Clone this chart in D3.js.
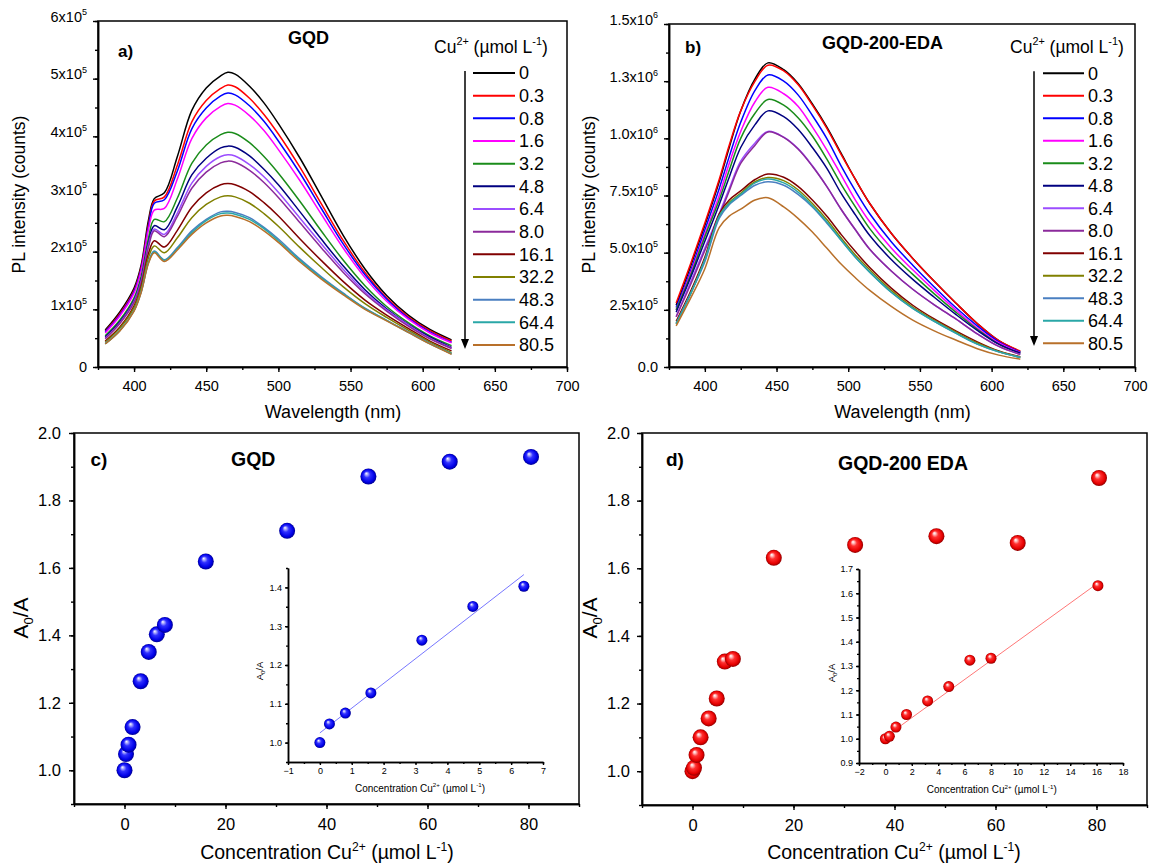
<!DOCTYPE html>
<html><head><meta charset="utf-8">
<script src="https://cdn.jsdelivr.net/npm/d3@7"></script>
<style>
body{margin:0;background:#fff}
svg text{font-family:"Liberation Sans",Arial,sans-serif;fill:#000}
</style>
</head><body>
<svg id="chart" width="1149" height="866"></svg>
<script>
// ---------------- DATA ----------------
const concLabels = ["0","0.3","0.8","1.6","3.2","4.8","6.4","8.0","16.1","32.2","48.3","64.4","80.5"];
const concValues = [0,0.3,0.8,1.6,3.2,4.8,6.4,8.0,16.1,32.2,48.3,64.4,80.5];
const seriesColors = ["#000000","#ff0000","#0000ff","#ff00ff","#1a8c1a","#000080","#9b4dff","#8b2a9b","#800000","#808000","#4a7fc1","#2aa7a7","#b8702a"];

// Panel a: GQD spectra (PL counts, x10^5)
const wavelengthsA = [380,390,400,405,410,414,421,430,440,450,460,465,470,480,490,500,515,530,545,560,575,590,605,620];
const gqd_0    = [0.64,0.95,1.37,1.78,2.55,2.92,3.02,3.65,4.45,4.84,5.05,5.11,5.08,4.87,4.58,4.22,3.62,2.95,2.28,1.70,1.24,0.90,0.65,0.47];
const gqd_0_3  = [0.62,0.92,1.33,1.74,2.48,2.88,2.95,3.50,4.25,4.62,4.83,4.89,4.86,4.66,4.38,4.04,3.46,2.82,2.19,1.64,1.20,0.87,0.63,0.45];
const gqd_0_8  = [0.61,0.90,1.31,1.71,2.44,2.84,2.90,3.40,4.13,4.49,4.70,4.75,4.72,4.53,4.26,3.92,3.36,2.74,2.13,1.60,1.18,0.85,0.61,0.43];
const gqd_1_6  = [0.59,0.88,1.28,1.68,2.39,2.72,2.75,3.26,3.96,4.32,4.52,4.57,4.54,4.36,4.10,3.77,3.23,2.64,2.06,1.55,1.14,0.83,0.59,0.42];
const gqd_3_2  = [0.54,0.81,1.20,1.58,2.24,2.56,2.52,2.93,3.53,3.85,4.03,4.07,4.05,3.89,3.65,3.36,2.87,2.35,1.85,1.41,1.05,0.77,0.54,0.37];
const gqd_4_8  = [0.52,0.78,1.16,1.53,2.16,2.45,2.38,2.78,3.33,3.62,3.80,3.83,3.81,3.66,3.43,3.16,2.69,2.21,1.75,1.34,1.01,0.74,0.52,0.34];
const gqd_6_4  = [0.50,0.76,1.14,1.50,2.12,2.39,2.30,2.67,3.19,3.48,3.65,3.68,3.66,3.51,3.30,3.03,2.58,2.13,1.69,1.30,0.99,0.73,0.50,0.33];
const gqd_8_0  = [0.49,0.75,1.12,1.48,2.08,2.36,2.26,2.61,3.10,3.38,3.54,3.57,3.55,3.41,3.20,2.94,2.50,2.06,1.64,1.27,0.97,0.71,0.49,0.32];
const gqd_16_1 = [0.45,0.69,1.06,1.41,1.97,2.19,2.08,2.37,2.77,3.02,3.16,3.18,3.16,3.04,2.85,2.62,2.22,1.84,1.48,1.16,0.90,0.67,0.45,0.28];
const gqd_32_2 = [0.43,0.67,1.03,1.37,1.90,2.10,1.98,2.24,2.59,2.82,2.95,2.97,2.95,2.84,2.66,2.44,2.07,1.72,1.39,1.10,0.86,0.64,0.43,0.25];
const gqd_48_3 = [0.41,0.63,0.98,1.31,1.82,2.01,1.86,2.07,2.36,2.56,2.69,2.70,2.68,2.59,2.42,2.22,1.87,1.56,1.28,1.02,0.81,0.61,0.41,0.23];
const gqd_64_4 = [0.40,0.63,0.98,1.31,1.81,2.00,1.85,2.05,2.33,2.54,2.66,2.67,2.65,2.56,2.40,2.19,1.85,1.54,1.27,1.01,0.81,0.60,0.40,0.23];
const gqd_80_5 = [0.40,0.62,0.97,1.30,1.80,1.98,1.83,2.03,2.30,2.50,2.62,2.63,2.61,2.52,2.36,2.16,1.82,1.52,1.25,1.00,0.80,0.60,0.40,0.22];

// Panel b: GQD-200-EDA spectra (PL counts, x10^6)
const wavelengthsB = [380,390,400,410,417,425,435,444,455,465,475,485,495,505,515,530,545,560,575,590,605,620];
const eda_0    = [0.27,0.44,0.62,0.81,0.96,1.12,1.26,1.33,1.30,1.24,1.15,1.05,0.935,0.82,0.715,0.585,0.475,0.375,0.28,0.19,0.115,0.067];
const eda_0_3  = [0.28,0.45,0.63,0.82,0.97,1.12,1.25,1.32,1.295,1.235,1.145,1.045,0.93,0.82,0.715,0.585,0.475,0.375,0.28,0.19,0.115,0.07];
const eda_0_8  = [0.26,0.42,0.60,0.78,0.92,1.07,1.21,1.277,1.25,1.19,1.10,1.00,0.88,0.77,0.67,0.548,0.445,0.35,0.26,0.18,0.11,0.065];
const eda_1_6  = [0.25,0.41,0.58,0.75,0.89,1.03,1.16,1.223,1.195,1.14,1.05,0.95,0.84,0.73,0.635,0.52,0.425,0.335,0.25,0.17,0.105,0.063];
const eda_3_2  = [0.25,0.40,0.57,0.73,0.86,1.00,1.11,1.17,1.145,1.09,1.01,0.91,0.80,0.70,0.605,0.495,0.405,0.32,0.24,0.165,0.10,0.06];
const eda_4_8  = [0.24,0.39,0.55,0.71,0.83,0.96,1.06,1.12,1.095,1.04,0.96,0.87,0.76,0.665,0.575,0.47,0.383,0.305,0.23,0.16,0.10,0.06];
const eda_6_4  = [0.22,0.37,0.52,0.67,0.78,0.90,0.98,1.03,1.005,0.955,0.88,0.79,0.69,0.60,0.515,0.42,0.34,0.272,0.21,0.145,0.09,0.055];
const eda_8_0  = [0.22,0.36,0.51,0.66,0.77,0.89,0.97,1.028,1.004,0.953,0.878,0.79,0.69,0.60,0.515,0.42,0.34,0.272,0.21,0.145,0.09,0.055];
const eda_16_1 = [0.20,0.33,0.48,0.67,0.73,0.77,0.82,0.844,0.83,0.79,0.73,0.66,0.58,0.505,0.435,0.345,0.27,0.21,0.158,0.11,0.07,0.045];
const eda_32_2 = [0.19,0.32,0.47,0.66,0.72,0.76,0.81,0.829,0.815,0.775,0.715,0.645,0.565,0.49,0.425,0.335,0.262,0.205,0.153,0.105,0.068,0.043];
const eda_48_3 = [0.19,0.32,0.46,0.65,0.71,0.75,0.795,0.81,0.795,0.755,0.70,0.63,0.555,0.48,0.415,0.327,0.256,0.20,0.148,0.10,0.066,0.042];
const eda_64_4 = [0.19,0.32,0.47,0.66,0.715,0.755,0.805,0.822,0.805,0.765,0.705,0.635,0.555,0.48,0.415,0.327,0.256,0.20,0.148,0.10,0.066,0.042];
const eda_80_5 = [0.18,0.30,0.43,0.61,0.66,0.69,0.73,0.74,0.70,0.65,0.59,0.52,0.45,0.39,0.335,0.265,0.205,0.158,0.118,0.08,0.052,0.034];

// Panels c, d: A0/A vs Cu2+ concentration
const ratioGQD = [1.000,1.048,1.076,1.128,1.264,1.351,1.403,1.431,1.619,1.710,1.871,1.915,1.929];
const ratioEDA = [1.000,1.010,1.048,1.100,1.156,1.215,1.324,1.332,1.631,1.669,1.695,1.675,1.867];
// insets (linear range)
const insetGQDcount = 7;
const insetEDAcount = 9;
const fitGQDx = [0, 6.4], fitGQDy = [1.025, 1.433];
const fitEDAx = [0, 16.1], fitEDAy = [1.008, 1.642];

// tick labels
const tickValsA = [0,1,2,3,4,5,6];
const tickLabsA = [["0",""],["1x10","5"],["2x10","5"],["3x10","5"],["4x10","5"],["5x10","5"],["6x10","5"]];
const tickValsB = [0,0.25,0.5,0.75,1.0,1.25,1.5];
const tickLabsB = [["0.0",""],["2.5x10","5"],["5.0x10","5"],["7.5x10","5"],["1.0x10","6"],["1.3x10","6"],["1.5x10","6"]];

// ---------------- DRAWING ----------------
const svg = d3.select("#chart");
const FONT = '"Liberation Sans",Arial,sans-serif';

function rich(sel, parts, fs){
  sel.text(null);
  let cur = 0;
  parts.forEach(([s,k])=>{
    const off = k==="sup" ? -0.42*fs : k==="sub" ? 0.25*fs : 0;
    const t = sel.append("tspan").text(s).attr("dy", off-cur);
    if(k) t.attr("font-size", 0.62*fs);
    cur = off;
  });
}

function styleAxis(g, fs){
  g.attr("font-size", fs).attr("font-family", FONT);
  g.selectAll("path.domain").attr("stroke","#000").attr("stroke-width",1.5);
  g.selectAll(".tick line").attr("stroke","#000").attr("stroke-width",1.4);
  g.selectAll(".tick text").attr("fill","#000");
}

function axes(g, x, y, o){
  styleAxis(g.append("g").attr("transform",`translate(0,${o.b})`)
    .call(d3.axisBottom(x).tickValues(o.xMinor).tickSize(o.minorLen).tickFormat("").tickSizeOuter(0)), o.fs);
  styleAxis(g.append("g").attr("transform",`translate(${o.l},0)`)
    .call(d3.axisLeft(y).tickValues(o.yMinor).tickSize(o.minorLen).tickFormat("").tickSizeOuter(0)), o.fs);
  const gx = g.append("g").attr("transform",`translate(0,${o.b})`)
    .call(d3.axisBottom(x).tickValues(o.xMajor).tickSize(o.majorLen).tickPadding(o.xPad).tickSizeOuter(0).tickFormat(o.xFmt));
  styleAxis(gx, o.fs);
  const gy = g.append("g").attr("transform",`translate(${o.l},0)`)
    .call(d3.axisLeft(y).tickValues(o.yMajor).tickSize(o.majorLen).tickPadding(o.yPad).tickSizeOuter(0).tickFormat(o.yFmt));
  styleAxis(gy, o.fs);
  return {gx, gy};
}

function spectraPanel(o){
  const g = svg.append("g");
  const x = d3.scaleLinear().domain([375,700]).range([o.l,o.r]);
  const y = d3.scaleLinear().domain([0,o.ymax]).range([o.b,o.t]);
  const line = d3.line().x((d,i)=>x(o.wl[i])).y(d=>y(d)).curve(d3.curveCatmullRom.alpha(0.5));
  o.series.forEach((s,i)=>{
    g.append("path").attr("d", line(s)).attr("fill","none")
      .attr("stroke", seriesColors[i]).attr("stroke-width",1.5).attr("stroke-linejoin","round");
  });
  const {gy} = axes(g, x, y, {
    l:o.l, b:o.b, fs:14.5, minorLen:3, majorLen:5, xPad:9, yPad:6,
    xMinor:d3.range(375,701,25), xMajor:d3.range(400,701,50), xFmt:d3.format("d"),
    yMinor:o.yMinor, yMajor:o.yTicks, yFmt:()=>""
  });
  gy.selectAll(".tick text").each(function(d,i){
    const lab = o.yLabs[i];
    const t = d3.select(this);
    if(lab[1]) rich(t, [[lab[0],null],[lab[1],"sup"]], 14.5); else t.text(lab[0]);
  });
  g.append("rect").attr("x",o.l).attr("y",o.t).attr("width",o.r-o.l).attr("height",o.b-o.t)
    .attr("fill","none").attr("stroke","#000").attr("stroke-width",1.5);
  g.append("text").attr("x",o.tagX).attr("y",o.tagY).attr("font-size",17).attr("font-weight","bold").text(o.tag);
  g.append("text").attr("x",o.titleX).attr("y",o.titleY).attr("font-size",18).attr("font-weight","bold").text(o.title);
  g.append("text").attr("x",(o.l+o.r)/2 + o.xtDx).attr("y",417.5).attr("font-size",18).attr("text-anchor","middle").text("Wavelength (nm)");
  g.append("text").attr("transform",`translate(${o.ytX},194.5) rotate(-90)`).attr("font-size",17.5).attr("text-anchor","middle").text("PL intensity (counts)");
  rich(g.append("text").attr("x",o.legTitleX).attr("y",52.5).attr("font-size",17.5),
       [["Cu",null],["2+","sup"],[" (\u00b5mol L",null],["-1","sup"],[")",null]], 17.5);
  concLabels.forEach((lab,i)=>{
    const cy = o.legY0 + i*o.legDy;
    g.append("line").attr("x1",o.legX1).attr("x2",o.legX2).attr("y1",cy).attr("y2",cy)
      .attr("stroke",seriesColors[i]).attr("stroke-width",2);
    g.append("text").attr("x",o.legX2+4).attr("y",cy+6.4).attr("font-size",18).text(lab);
  });
  g.append("line").attr("x1",o.arrX).attr("x2",o.arrX).attr("y1",o.legY0-2).attr("y2",o.arrTip-8)
    .attr("stroke","#000").attr("stroke-width",1.5);
  g.append("path").attr("d",`M${o.arrX-4},${o.arrTip-10}L${o.arrX+4},${o.arrTip-10}L${o.arrX},${o.arrTip}Z`).attr("fill","#000");
}

spectraPanel({
  l:98, r:567, t:21, b:367, ymax:6, wl:wavelengthsA,
  series:[gqd_0,gqd_0_3,gqd_0_8,gqd_1_6,gqd_3_2,gqd_4_8,gqd_6_4,gqd_8_0,gqd_16_1,gqd_32_2,gqd_48_3,gqd_64_4,gqd_80_5],
  yTicks:tickValsA, yLabs:tickLabsA, yMinor:d3.range(0,6.01,0.5),
  tag:"a)", tagX:118, tagY:57, title:"GQD", titleX:288, titleY:43.5,
  xtDx:0.5, ytX:25,
  legTitleX:434, legY0:73, legDy:22.67, legX1:473, legX2:515, arrX:465, arrTip:349
});
spectraPanel({
  l:669, r:1135, t:24, b:367, ymax:1.5, wl:wavelengthsB,
  series:[eda_0,eda_0_3,eda_0_8,eda_1_6,eda_3_2,eda_4_8,eda_6_4,eda_8_0,eda_16_1,eda_32_2,eda_48_3,eda_64_4,eda_80_5],
  yTicks:tickValsB, yLabs:tickLabsB, yMinor:d3.range(0,1.51,0.125),
  tag:"b)", tagX:685, tagY:53, title:"GQD-200-EDA", titleX:822, titleY:49,
  xtDx:0.5, ytX:595,
  legTitleX:1010, legY0:73.3, legDy:22.5, legX1:1043, legX2:1084, arrX:1034, arrTip:346
});

const defs = svg.append("defs");
function sphere(id, c0, c1, c2, c3){
  const gr = defs.append("radialGradient").attr("id",id).attr("cx","50%").attr("cy","50%").attr("r","50%").attr("fx","36%").attr("fy","30%");
  gr.append("stop").attr("offset","0%").attr("stop-color","#ffffff");
  gr.append("stop").attr("offset","14%").attr("stop-color",c0);
  gr.append("stop").attr("offset","40%").attr("stop-color",c1);
  gr.append("stop").attr("offset","80%").attr("stop-color",c2);
  gr.append("stop").attr("offset","100%").attr("stop-color",c3);
}
sphere("sphBlue","#b8b8ff","#3030ff","#0000e6","#000090");
sphere("sphRed","#ffc8c8","#ff3030","#e60000","#900000");

function ratioPanel(o){
  const g = svg.append("g");
  const x = d3.scaleLinear().domain([-10,90]).range([o.l,o.r]);
  const y = d3.scaleLinear().domain([0.9,2.0]).range([o.b,o.t]);
  axes(g, x, y, {
    l:o.l, b:o.b, fs:16.5, minorLen:3, majorLen:5, xPad:9.5, yPad:o.yPad,
    xMinor:d3.range(-10,91,10), xMajor:d3.range(0,81,20), xFmt:d3.format("d"),
    yMinor:d3.range(0.9,2.01,0.1).map(v=>+v.toFixed(2)), yMajor:[1.0,1.2,1.4,1.6,1.8,2.0], yFmt:d3.format(".1f")
  });
  g.append("rect").attr("x",o.l).attr("y",o.t).attr("width",o.r-o.l).attr("height",o.b-o.t)
    .attr("fill","none").attr("stroke","#000").attr("stroke-width",1.5);
  g.selectAll("circle.main").data(o.vals).join("circle").attr("class","main")
    .attr("cx",(d,i)=>x(concValues[i])).attr("cy",d=>y(d)).attr("r",8).attr("fill",`url(#${o.grad})`);
  g.append("text").attr("x",o.tagX).attr("y",466).attr("font-size",19).attr("font-weight","bold").text(o.tag);
  g.append("text").attr("x",o.titleX).attr("y",o.titleY).attr("font-size",19.5).attr("font-weight","bold").text(o.title);
  rich(g.append("text").attr("transform",`translate(${o.ytX},618) rotate(-90)`).attr("font-size",21).attr("text-anchor","middle"),
    [["A",null],["0","sub"],["/A",null]], 21);
  rich(g.append("text").attr("x",o.xtX).attr("y",859).attr("font-size",19.5).attr("text-anchor","middle"),
    [["Concentration Cu",null],["2+","sup"],[" (\u00b5mol L",null],["-1","sup"],[")",null]], 19.5);

  const ix = d3.scaleLinear().domain(o.ixDom).range([o.il,o.ir]);
  const iy = d3.scaleLinear().domain(o.iyDom).range([o.ib,o.it]);
  const gi = g.append("g");
  axes(gi, ix, iy, {
    l:o.il, b:o.ib, fs:9, minorLen:2, majorLen:3, xPad:2.5, yPad:3,
    xMinor:o.ixMinor, xMajor:o.ixMajor, xFmt:d3.format("d"),
    yMinor:o.iyMinor, yMajor:o.iyMajor, yFmt:d3.format(".1f")
  });
  gi.append("line").attr("x1",ix(o.fitX[0])).attr("x2",ix(o.fitX[1])).attr("y1",iy(o.fitY[0])).attr("y2",iy(o.fitY[1]))
    .attr("stroke",o.fitColor).attr("stroke-width",1);
  gi.selectAll("circle.ins").data(o.vals.slice(0,o.n)).join("circle").attr("class","ins")
    .attr("cx",(d,i)=>ix(concValues[i])).attr("cy",d=>iy(d)).attr("r",5.5).attr("fill",`url(#${o.grad})`);
  rich(gi.append("text").attr("transform",`translate(${o.iytX},${o.iytY}) rotate(-90)`).attr("font-size",9.5).attr("text-anchor","middle"),
    [["A",null],["0","sub"],["/A",null]], 9.5);
  rich(gi.append("text").attr("x",o.ixtX).attr("y",o.ixtY).attr("font-size",10).attr("text-anchor","middle"),
    [["Concentration Cu",null],["2+","sup"],[" (\u00b5mol L",null],["-1","sup"],[")",null]], 10);
}

ratioPanel({
  l:74, r:579, t:433, b:804, yPad:8, vals:ratioGQD, grad:"sphBlue",
  tag:"c)", tagX:90.5, title:"GQD", titleX:231, titleY:466, ytX:28, xtX:327,
  il:288, ir:543, it:568, ib:762, ixDom:[-1,7], iyDom:[0.95,1.45],
  ixMinor:d3.range(-1,7.01,0.5), ixMajor:d3.range(-1,8,1),
  iyMinor:d3.range(0.95,1.451,0.05).map(v=>+v.toFixed(2)), iyMajor:[1.0,1.1,1.2,1.3,1.4],
  n:insetGQDcount, fitX:fitGQDx, fitY:fitGQDy, fitColor:"#7777ff",
  iytX:263, iytY:671, ixtX:420, ixtY:791.5
});
ratioPanel({
  l:642, r:1147, t:433, b:805, yPad:7, vals:ratioEDA, grad:"sphRed",
  tag:"d)", tagX:666, title:"GQD-200 EDA", titleX:838, titleY:470, ytX:597, xtX:894,
  il:859, ir:1123, it:569, ib:763, ixDom:[-2,18], iyDom:[0.9,1.7],
  ixMinor:d3.range(-2,18.01,1), ixMajor:d3.range(-2,19,2),
  iyMinor:d3.range(0.9,1.701,0.05).map(v=>+v.toFixed(2)), iyMajor:[0.9,1.0,1.1,1.2,1.3,1.4,1.5,1.6,1.7],
  n:insetEDAcount, fitX:fitEDAx, fitY:fitEDAy, fitColor:"#ff7777",
  iytX:835, iytY:673, ixtX:991.7, ixtY:793
});
</script>
</body></html>
